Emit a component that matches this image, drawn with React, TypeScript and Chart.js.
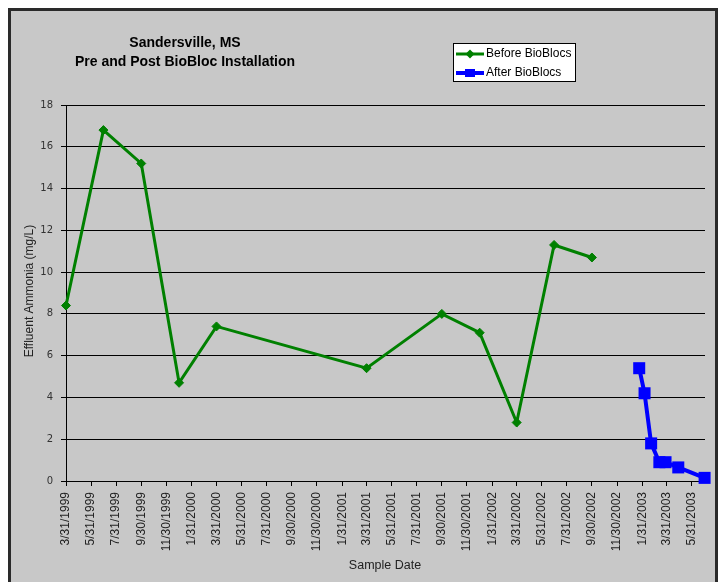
import React, { useEffect, useRef } from "react";
import { Chart, registerables } from "chart.js";

Chart.register(...registerables);

// ---- data ----
const beforeDates = ["3/31/1999", "6/30/1999", "9/30/1999", "12/31/1999", "3/31/2000", "3/31/2001", "9/30/2001", "12/31/2001", "3/31/2002", "6/30/2002", "9/30/2002"];
const beforeValues = [8.4, 16.8, 15.2, 4.7, 7.4, 5.4, 8.0, 7.1, 2.8, 11.3, 10.7];
const afterDates = ["1/23/2003", "2/5/2003", "2/21/2003", "3/13/2003", "3/28/2003", "4/28/2003", "7/1/2003"];
const afterValues = [5.4, 4.2, 1.8, 0.9, 0.9, 0.65, 0.15];
const tickDates = [
  "3/31/1999", "5/31/1999", "7/31/1999", "9/30/1999", "11/30/1999",
  "1/31/2000", "3/31/2000", "5/31/2000", "7/31/2000", "9/30/2000", "11/30/2000",
  "1/31/2001", "3/31/2001", "5/31/2001", "7/31/2001", "9/30/2001", "11/30/2001",
  "1/31/2002", "3/31/2002", "5/31/2002", "7/31/2002", "9/30/2002", "11/30/2002",
  "1/31/2003", "3/31/2003", "5/31/2003",
];
const axisStart = "3/31/1999";
const axisEnd = "7/2/2003";
const yMin = 0;
const yMax = 18;
const yStep = 2;
const titleLines = ["Sandersville, MS", "Pre and Post BioBloc Installation"];
const legendLabels = ["Before BioBlocs", "After BioBlocs"];
const xTitle = "Sample Date";
const yTitle = "Effluent Ammonia (mg/L)";

const GREEN = "#008000";
const BLUE = "#0000ff";
const BG = "#c8c8c8";

function dayNum(s: string): number {
  const [m, d, y] = s.split("/").map(Number);
  return Date.UTC(y, m - 1, d) / 86400000;
}

const decorPlugin = {
  id: "decor",
  beforeDraw(chart: any) {
    const ctx = chart.ctx;
    const w = chart.width;
    const h = chart.height;
    ctx.save();
    ctx.fillStyle = BG;
    ctx.fillRect(0, 0, w, h);
    ctx.restore();
  },
  afterDraw(chart: any) {
    const ctx = chart.ctx;
    const w = chart.width;
    const h = chart.height;
    ctx.save();
    // frame
    ctx.strokeStyle = "#2a2a2a";
    ctx.lineWidth = 3;
    ctx.strokeRect(1.5, 1.5, w - 3, h + 10);

    // title
    ctx.fillStyle = "#000";
    ctx.font = "bold 14px 'Liberation Sans', Arial, sans-serif";
    ctx.textAlign = "center";
    ctx.textBaseline = "middle";
    ctx.fillText(titleLines[0], 177, 35);
    ctx.fillText(titleLines[1], 177, 54);

    // legend
    const lx = 445, ly = 35, lw = 122, lh = 38;
    ctx.fillStyle = "#fff";
    ctx.fillRect(lx, ly, lw, lh);
    ctx.strokeStyle = "#000";
    ctx.lineWidth = 1;
    ctx.strokeRect(lx + 0.5, ly + 0.5, lw, lh);
    const rows = [46, 65];
    // before
    ctx.strokeStyle = GREEN;
    ctx.lineWidth = 3;
    ctx.beginPath();
    ctx.moveTo(448, rows[0]);
    ctx.lineTo(476, rows[0]);
    ctx.stroke();
    ctx.fillStyle = GREEN;
    ctx.beginPath();
    ctx.moveTo(462, rows[0] - 4.5);
    ctx.lineTo(466.5, rows[0]);
    ctx.lineTo(462, rows[0] + 4.5);
    ctx.lineTo(457.5, rows[0]);
    ctx.closePath();
    ctx.fill();
    // after
    ctx.strokeStyle = BLUE;
    ctx.lineWidth = 4;
    ctx.beginPath();
    ctx.moveTo(448, rows[1]);
    ctx.lineTo(476, rows[1]);
    ctx.stroke();
    ctx.fillStyle = BLUE;
    ctx.fillRect(457, rows[1] - 4, 10, 8);

    ctx.fillStyle = "#000";
    ctx.font = "12px 'Liberation Sans', Arial, sans-serif";
    ctx.textAlign = "left";
    ctx.textBaseline = "middle";
    ctx.fillText(legendLabels[0], 478, rows[0]);
    ctx.fillText(legendLabels[1], 478, rows[1]);

    // axis titles
    ctx.fillStyle = "#222";
    ctx.font = "12.5px 'Liberation Sans', Arial, sans-serif";
    ctx.textAlign = "center";
    ctx.textBaseline = "middle";
    ctx.fillText(xTitle, 377, 558);
    ctx.font = "12px 'Liberation Sans', Arial, sans-serif";
    ctx.translate(22, 283);
    ctx.rotate(-Math.PI / 2);
    ctx.fillText(yTitle, 0, 0);
    ctx.restore();
  },
};

export default function App() {
  const ref = useRef<HTMLCanvasElement | null>(null);

  useEffect(() => {
    if (!ref.current) return;
    const tickValues = tickDates.map(dayNum);
    const chart = new Chart(ref.current, {
      type: "line",
      data: {
        datasets: [
          {
            label: legendLabels[0],
            data: beforeDates.map((d, i) => ({ x: dayNum(d), y: beforeValues[i] })),
            borderColor: GREEN,
            backgroundColor: GREEN,
            borderWidth: 3,
            pointStyle: "rectRot",
            pointRadius: 4.5,
            pointBorderWidth: 1,
            pointBackgroundColor: GREEN,
            pointBorderColor: GREEN,
            tension: 0,
            clip: false as any,
          },
          {
            label: legendLabels[1],
            data: afterDates.map((d, i) => ({ x: dayNum(d), y: afterValues[i] })),
            borderColor: BLUE,
            backgroundColor: BLUE,
            borderWidth: 4,
            pointStyle: "rect",
            pointRadius: 8.5,
            pointBorderWidth: 0,
            pointBackgroundColor: BLUE,
            pointBorderColor: BLUE,
            tension: 0,
            clip: false as any,
          },
        ],
      },
      options: {
        animation: false,
        responsive: false,
        maintainAspectRatio: false,
        layout: { padding: { top: 97, right: 13, bottom: 0, left: 0 } },
        plugins: {
          legend: { display: false },
          title: { display: false },
          tooltip: { enabled: false },
        },
        scales: {
          x: {
            type: "linear",
            min: dayNum(axisStart),
            max: dayNum(axisEnd),
            bounds: "data",
            afterBuildTicks: (scale: any) => {
              scale.ticks = tickValues.map((v) => ({ value: v }));
            },
            afterFit: (scale: any) => {
              scale.height = 101;
            },
            ticks: {
              autoSkip: false,
              maxRotation: 90,
              minRotation: 90,
              padding: 6,
              color: "#222",
              font: { family: "'Liberation Sans', Arial, sans-serif", size: 12 },
              callback: (_v: any, i: number) => tickDates[i],
            },
            grid: {
              drawOnChartArea: false,
              drawTicks: true,
              tickLength: 5,
              color: "#000",
            },
            border: { color: "#000", width: 1 },
          },
          y: {
            type: "linear",
            min: yMin,
            max: yMax,
            afterFit: (scale: any) => {
              scale.width = 58;
            },
            ticks: {
              stepSize: yStep,
              padding: 8,
              color: "#333",
              font: { family: "'DejaVu Sans', Verdana, sans-serif", size: 10 },
            },
            grid: {
              color: "#000",
              lineWidth: 1,
              drawTicks: true,
              tickLength: 5,
            },
            border: { color: "#000", width: 1 },
          },
        },
      } as any,
      plugins: [decorPlugin],
    });
    return () => chart.destroy();
  }, []);

  return (
    <div style={{ position: "fixed", left: 8, top: 8, width: 710, height: 574 }}>
      <canvas ref={ref} width={710} height={574} style={{ display: "block", width: 710, height: 574 }} />
    </div>
  );
}
